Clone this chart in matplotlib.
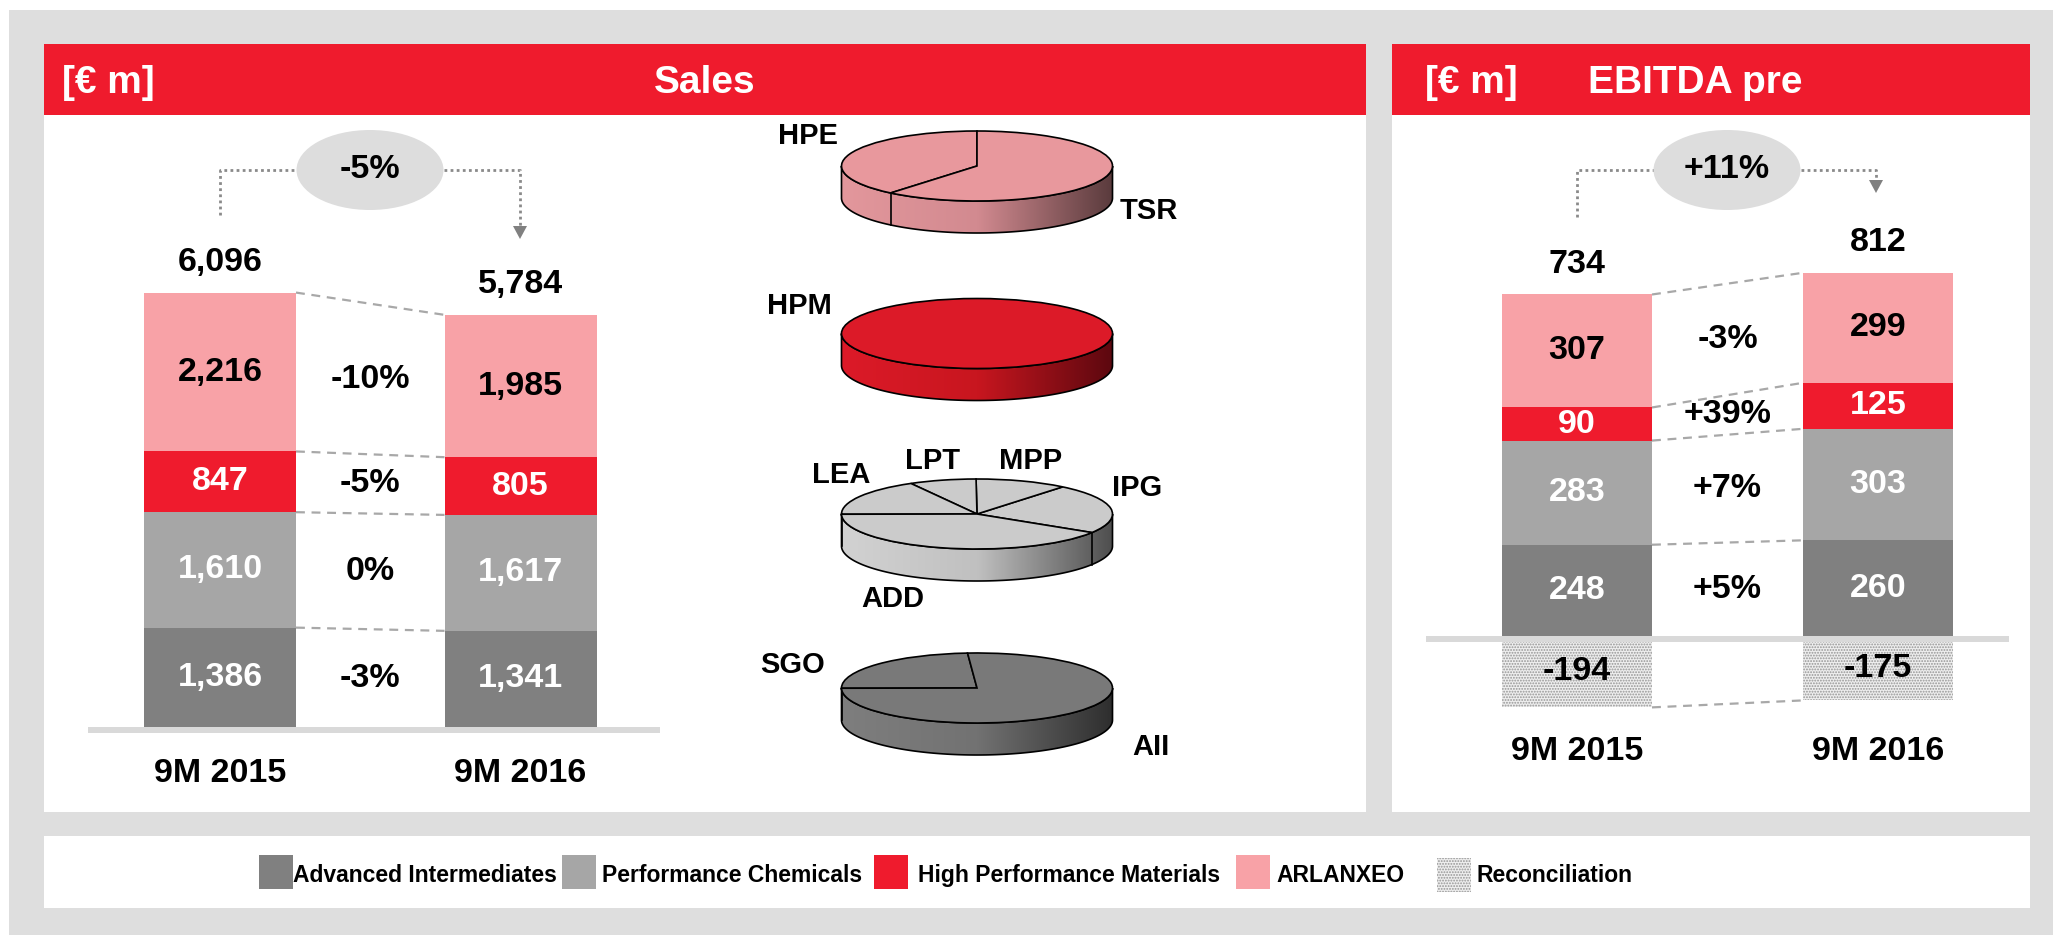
import numpy as np
import matplotlib
matplotlib.use("Agg")
import matplotlib.pyplot as plt
from matplotlib.patches import Rectangle, Ellipse, Wedge, Polygon
from matplotlib.transforms import Affine2D
from matplotlib.colors import LinearSegmentedColormap

W, H, DPI = 2053, 935, 100
plt.rcParams["font.family"] = ["Liberation Sans", "DejaVu Sans"]
plt.rcParams["font.weight"] = "bold"
plt.rcParams["hatch.linewidth"] = 0.9

# ---------------- data ----------------
periods = ["9M 2015", "9M 2016"]
segment_names = ["Advanced Intermediates", "Performance Chemicals",
                 "High Performance Materials", "ARLANXEO"]

sales_ai = [1386, 1341]
sales_pc = [1610, 1617]
sales_hpm = [847, 805]
sales_arl = [2216, 1985]
sales_total = [6096, 5784]
sales_change = ["-3%", "0%", "-5%", "-10%"]
sales_total_change = "-5%"

ebitda_ai = [248, 260]
ebitda_pc = [283, 303]
ebitda_hpm = [90, 125]
ebitda_arl = [307, 299]
ebitda_recon = [-194, -175]
ebitda_total = [734, 812]
ebitda_change = ["+5%", "+7%", "+39%", "-3%"]
ebitda_total_change = "+11%"

# business-unit shares inside each segment (%)
arl_units = ["HPE", "TSR"]
arl_shares = [39, 61]
hpm_units = ["HPM"]
hpm_shares = [100]
pc_units = ["IPG", "MPP", "LPT", "LEA", "ADD"]
pc_shares = [23, 11, 8, 17, 41]
ai_units = ["SGO", "AII"]
ai_shares = [24, 76]

# ---------------- style ----------------
RED = "#ef1b2d"
C_AI, C_PC, C_HPM, C_ARL = "#808080", "#a6a6a6", "#ef1b2d", "#f8a2a7"
seg_colors = [C_AI, C_PC, C_HPM, C_ARL]
seg_text = ["white", "white", "white", "black"]
RECON_FACE, RECON_DOTS, RECON_HATCH = "#eeeeee", "#959595", "......"
FRAME = "#dedede"
FS = 24.5

fig = plt.figure(figsize=(W / DPI, H / DPI), dpi=DPI)
fig.patch.set_facecolor("white")

# full-figure canvas in pixel units for frames, headers, pies and legend
bg = fig.add_axes([0, 0, 1, 1], zorder=0)
bg.set_xlim(0, W)
bg.set_ylim(H, 0)
bg.axis("off")

bg.add_patch(Rectangle((9, 10), W - 9, H - 10, facecolor=FRAME, lw=0))
for x0, x1 in [(44, 1366), (1392, 2030)]:
    bg.add_patch(Rectangle((x0, 46), x1 - x0, 812 - 46, facecolor="white", lw=0))
    bg.add_patch(Rectangle((x0, 44), x1 - x0, 71, facecolor=RED, lw=0))
bg.add_patch(Rectangle((44, 836), 2030 - 44, 72, facecolor="white", lw=0))

bg.text(62, 93, "[€ m]", color="white", fontsize=28, ha="left", va="baseline")
bg.text(705, 93, "Sales", color="white", fontsize=28, ha="center", va="baseline")
bg.text(1425, 93, "[€ m]", color="white", fontsize=28, ha="left", va="baseline")
bg.text(1588, 93, "EBITDA pre", color="white", fontsize=28, ha="left", va="baseline")


# ---------------- growth brackets ----------------
def growth_bracket(x_from, y_from, x_to, y_tip, cx, label):
    ew, eh, cy = 147, 80, 170
    kw = dict(color="#8a8a8a", lw=2, ls=(0, (1, 1.2)), zorder=3)
    bg.plot([x_from, x_from, cx - ew / 2], [y_from, cy, cy], **kw)
    bg.plot([cx + ew / 2, x_to, x_to], [cy, cy, y_tip - 12], **kw)
    bg.add_patch(Polygon([[x_to - 7, y_tip - 13], [x_to + 7, y_tip - 13], [x_to, y_tip]],
                         closed=True, facecolor="#808080", lw=0, zorder=4))
    bg.add_patch(Ellipse((cx, cy), ew, eh, facecolor="#dddddd", lw=0, zorder=4))
    bg.text(cx, cy, label, fontsize=FS, ha="center", va="center", zorder=5)


growth_bracket(220, 215, 520, 239, 370, sales_total_change)
growth_bracket(1577, 217, 1876, 193, 1727, ebitda_total_change)


# ---------------- 3D pies ----------------
def pie3d(cx, cy, shares, start, top_color, side_colors):
    rx, ry, depth = 135.5, 35, 32
    frac = np.asarray(shares, float) / np.sum(shares)
    edges = start + 360 * np.concatenate([[0], np.cumsum(frac)])
    t = np.linspace(np.pi, 2 * np.pi, 240)
    rim = np.column_stack([cx + rx * np.cos(t), cy - ry * np.sin(t)])
    wall = Polygon(np.vstack([rim, rim[::-1] + [0, depth]]), closed=True,
                   facecolor="none", edgecolor="black", lw=1.2, zorder=6)
    bg.add_patch(wall)
    cmap = LinearSegmentedColormap.from_list("wall", side_colors)
    img = bg.imshow(np.linspace(0, 1, 256)[None, :], cmap=cmap,
                    extent=(cx - rx, cx + rx, cy + ry + depth, cy - ry),
                    aspect="auto", interpolation="bilinear", zorder=5)
    img.set_clip_path(wall)
    for a in edges[:-1]:
        am = a % 360
        if 180 < am < 360 and len(shares) > 1:
            x = cx + rx * np.cos(np.radians(am))
            y = cy - ry * np.sin(np.radians(am))
            bg.plot([x, x], [y, y + depth], color="black", lw=1.2, zorder=7)
    if len(shares) == 1:
        bg.add_patch(Ellipse((cx, cy), 2 * rx, 2 * ry, facecolor=top_color,
                             edgecolor="black", lw=1.2, zorder=8))
    else:
        to_canvas = Affine2D().scale(rx, -ry).translate(cx, cy) + bg.transData
        for a0, a1 in zip(edges[:-1], edges[1:]):
            bg.add_patch(Wedge((0, 0), 1, a0, a1, facecolor=top_color,
                               edgecolor="black", lw=1.2, zorder=8,
                               transform=to_canvas))


PIE_X = 977
pie3d(PIE_X, 166, arl_shares, 90, "#e8989d", ["#e3979c", "#d28a90", "#5a3b3d"])
pie3d(PIE_X, 333.5, hpm_shares, 90, "#dc1a28", ["#dc1a28", "#c8161f", "#5c080f"])
pie3d(PIE_X, 514, pc_shares, -32, "#cbcbcb", ["#d2d2d2", "#c0c0c0", "#4e4e4e"])
pie3d(PIE_X, 688, ai_shares, 94, "#797979", ["#7e7e7e", "#727272", "#2e2e2e"])

unit_label_pos = {
    "HPE": (808, 136), "TSR": (1149, 211), "HPM": (799, 306),
    "LEA": (841, 475), "LPT": (933, 461), "MPP": (1031, 461),
    "IPG": (1137, 488), "ADD": (893, 599), "SGO": (793, 665), "AII": (1151, 747),
}
for name in arl_units + hpm_units + pc_units + ai_units:
    x, y = unit_label_pos[name]
    bg.text(x, y, name, fontsize=21, ha="center", va="center", zorder=9)


# ---------------- stacked bars ----------------
def bar_axes(px_l, px_r, px_t, px_b, c0, c1, base, ppu):
    ax = fig.add_axes([px_l / W, 1 - px_b / H, (px_r - px_l) / W, (px_b - px_t) / H], zorder=2)
    step = c1 - c0
    ax.set_xlim(-(c0 - px_l) / step, 1 + (px_r - c1) / step)
    ax.set_ylim(-(px_b - base) / ppu, (base - px_t) / ppu)
    ax.axis("off")
    ax.patch.set_alpha(0)
    return ax, step


def draw_stack(ax, step, bar_px, ppu, series, changes, totals, period_gap_px, recon=None):
    width = bar_px / step
    x = np.arange(len(periods))
    bottoms = np.zeros(len(periods))
    tops, mids = [], []
    for vals, col, tcol in zip(series, seg_colors, seg_text):
        vals = np.asarray(vals, float)
        ax.bar(x, vals, width, bottom=bottoms, color=col, linewidth=0, zorder=2)
        mid = bottoms + vals / 2
        for xi, yi, v in zip(x, mid, vals):
            ax.text(xi, yi, f"{v:,.0f}", color=tcol, fontsize=FS,
                    ha="center", va="center", zorder=5)
        mids.append(mid)
        bottoms = bottoms + vals
        tops.append(bottoms.copy())
    dash = dict(color="#a8a8a8", lw=1.6, ls=(0, (4, 3)), zorder=1, clip_on=False)
    for b in tops:
        ax.plot([width / 2, 1 - width / 2], b, **dash)
    for mid, ch in zip(mids, changes):
        ax.text(0.5, mid.mean(), ch, fontsize=FS, ha="center", va="center", zorder=5)
    for xi, top, tot in zip(x, tops[-1], totals):
        ax.annotate(f"{tot:,}", xy=(xi, top), xytext=(0, 30 * 72 / DPI),
                    textcoords="offset points", fontsize=FS, ha="center", va="center")
    if recon is not None:
        r = np.asarray(recon, float)
        ax.bar(x, r, width, color=RECON_FACE, edgecolor=RECON_DOTS, hatch=RECON_HATCH,
               linewidth=0, zorder=2)
        for xi, v in zip(x, r):
            ax.text(xi, v / 2, f"{v:,.0f}", fontsize=FS, ha="center", va="center", zorder=5)
        ax.plot([width / 2, 1 - width / 2], r, **dash)
    ax.axhline(-3 / ppu, color="#d9d9d9", lw=6 * 72 / DPI, zorder=4)
    for xi, p in zip(x, periods):
        ax.text(xi, -period_gap_px / ppu, p, fontsize=FS, ha="center", va="center")


sales_ppu = 0.0717
ax_s, step_s = bar_axes(88, 660, 127, 800, 220, 520.5, 727, sales_ppu)
draw_stack(ax_s, step_s, 152, sales_ppu,
           [sales_ai, sales_pc, sales_hpm, sales_arl], sales_change, sales_total, 46)

ebitda_ppu = 0.368
ax_e, step_e = bar_axes(1426, 2009, 127, 800, 1577, 1878, 636, ebitda_ppu)
draw_stack(ax_e, step_e, 150, ebitda_ppu,
           [ebitda_ai, ebitda_pc, ebitda_hpm, ebitda_arl], ebitda_change, ebitda_total,
           116, recon=ebitda_recon)

# ---------------- legend ----------------
legend_names = segment_names + ["Reconciliation"]
legend_swatch_x = [259, 562, 874, 1236, 1437]
legend_text_x = [293, 602, 918, 1276, 1477]
for i, (name, sx, tx) in enumerate(zip(legend_names, legend_swatch_x, legend_text_x)):
    if i < 4:
        bg.add_patch(Rectangle((sx, 855), 34, 34, facecolor=seg_colors[i], lw=0, zorder=3))
    else:
        bg.add_patch(Rectangle((sx, 858), 34, 34, facecolor=RECON_FACE, edgecolor=RECON_DOTS,
                               hatch=RECON_HATCH, lw=0, zorder=3))
    bg.text(tx, 882, name, fontsize=16.5, ha="left", va="baseline", zorder=4)

fig.savefig("out.png", dpi=DPI)
